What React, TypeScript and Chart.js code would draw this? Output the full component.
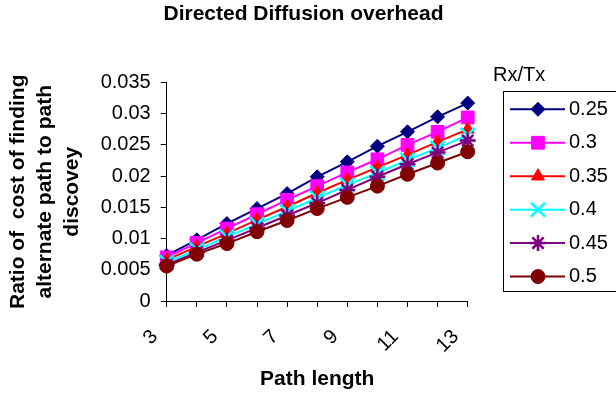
import React, { useEffect, useRef } from 'react';
import { Chart, registerables } from 'chart.js';
import { drawPoint } from 'chart.js/helpers';

Chart.register(...registerables);

const FONT = "'Liberation Sans', Arial, sans-serif";

const categories = ['3', '4', '5', '6', '7', '8', '9', '10', '11', '12', '13'];
const seriesNames = ['0.25', '0.3', '0.35', '0.4', '0.45', '0.5'];

const s025 = [0.0073, 0.0098, 0.0124, 0.0148, 0.0172, 0.0199, 0.0223, 0.0248, 0.0271, 0.0295, 0.0317];
const s030 = [0.0070, 0.0093, 0.0116, 0.0139, 0.0162, 0.0184, 0.0206, 0.0227, 0.0250, 0.0271, 0.0294];
const s035 = [0.0066, 0.0087, 0.0108, 0.0130, 0.0151, 0.0173, 0.0194, 0.0214, 0.0234, 0.0255, 0.0275];
const s040 = [0.0062, 0.0082, 0.0103, 0.0123, 0.0144, 0.0165, 0.0186, 0.0205, 0.0226, 0.0245, 0.0266];
const s045 = [0.0058, 0.0078, 0.0097, 0.0117, 0.0137, 0.0157, 0.0178, 0.0199, 0.0219, 0.0238, 0.0257];
const s050 = [0.0056, 0.0075, 0.0092, 0.0111, 0.0129, 0.0148, 0.0166, 0.0184, 0.0203, 0.0221, 0.0239];
const seriesValues = [s025, s030, s035, s040, s045, s050];

const yMin = 0;
const yMax = 0.035;
const yStep = 0.005;

const colors = ['#000080', '#FF00FF', '#FF0000', '#00FFFF', '#800080', '#800000'];
const pointStyles = ['rectRot', 'rect', 'triangle', 'crossRot', 'star', 'circle'];
const pointRadii = [7, 9, 7.5, 10, 8, 7];
const pointBorders = [1, 1, 1, 2.5, 2.5, 1];

const legendPlugin = {
  id: 'customLegend',
  afterDraw(chart: any) {
    const ctx = chart.ctx;
    ctx.save();
    ctx.font = `20px ${FONT}`;
    ctx.fillStyle = '#000';
    ctx.textBaseline = 'middle';
    ctx.textAlign = 'left';
    ctx.fillText('Rx/Tx', 493, 75);
    ctx.strokeStyle = '#000';
    ctx.lineWidth = 1;
    ctx.strokeRect(503.5, 91.5, 130, 200);
    chart.data.datasets.forEach((ds: any, i: number) => {
      const y = 109.3 + i * 33.45;
      ctx.strokeStyle = ds.borderColor;
      ctx.lineWidth = 2;
      ctx.beginPath();
      ctx.moveTo(510, y);
      ctx.lineTo(565, y);
      ctx.stroke();
      ctx.fillStyle = ds.pointBackgroundColor;
      ctx.strokeStyle = ds.pointBorderColor;
      ctx.lineWidth = ds.pointBorderWidth;
      drawPoint(ctx, { pointStyle: ds.pointStyle, radius: ds.pointRadius, rotation: 0, borderWidth: ds.pointBorderWidth } as any, 538, y);
      ctx.fillStyle = '#000';
      ctx.fillText(ds.label, 569, y);
    });
    ctx.restore();
  },
};

export default function App() {
  const ref = useRef<HTMLCanvasElement>(null);
  useEffect(() => {
    if (!ref.current) return;
    const datasets = seriesNames.map((name, i) => ({
      label: name,
      data: seriesValues[i],
      borderColor: colors[i],
      backgroundColor: colors[i],
      borderWidth: 2,
      pointStyle: pointStyles[i],
      pointRadius: pointRadii[i],
      pointBackgroundColor: colors[i],
      pointBorderColor: colors[i],
      pointBorderWidth: pointBorders[i],
      order: seriesNames.length - i,
      tension: 0,
    }));
    const chart = new Chart(ref.current, {
      type: 'line',
      data: { labels: categories, datasets },
      plugins: [legendPlugin],
      options: {
        responsive: false,
        animation: false,
        events: [],
        layout: { padding: { left: 0, right: 9, top: 0, bottom: 0 } },
        plugins: {
          legend: { display: false },
          tooltip: { enabled: false },
          title: {
            display: true,
            text: 'Directed Diffusion overhead',
            color: '#000',
            font: { family: FONT, size: 21, weight: 'bold', lineHeight: 1.2 },
            padding: { top: 1.9, bottom: 55.4 },
          },
        },
        scales: {
          x: {
            offset: false,
            grid: { display: true, drawOnChartArea: false, drawTicks: true, tickLength: 6, color: '#000' },
            border: { display: true, color: '#000', width: 1 },
            ticks: {
              autoSkip: false,
              minRotation: 45,
              maxRotation: 45,
              padding: 18,
              labelOffset: -12,
              color: '#000',
              font: { family: FONT, size: 20 },
              callback: (_v: any, i: number) => (i % 2 === 0 ? categories[i] : ''),
            },
            title: {
              display: true,
              text: 'Path length',
              color: '#000',
              font: { family: FONT, size: 21, weight: 'bold', lineHeight: 1.2 },
              padding: { top: 0, bottom: 2 },
            },
            afterFit: (s: any) => { s.height = 93; },
          },
          y: {
            min: yMin,
            max: yMax,
            grid: { display: true, drawOnChartArea: false, drawTicks: true, tickLength: 6, color: '#000' },
            border: { display: true, color: '#000', width: 1 },
            ticks: {
              stepSize: yStep,
              padding: 10,
              color: '#000',
              font: { family: FONT, size: 20 },
              callback: (v: any) => String(parseFloat(Number(v).toFixed(3))),
            },
            title: {
              display: true,
              text: ['Ratio of  cost of finding', 'alternate path to path', 'discovey'],
              color: '#000',
              font: { family: FONT, size: 21, weight: 'bold', lineHeight: 27 / 21 },
              padding: { top: 4.5, bottom: 0 },
            },
            afterFit: (s: any) => { s.width = 166.7; },
          },
          y2: {
            position: 'right',
            display: true,
            grid: { display: false },
            border: { display: false },
            ticks: { display: false },
            afterFit: (s: any) => { s.width = 139.3; },
          },
        },
      } as any,
    });
    return () => chart.destroy();
  }, []);
  return (
    <div style={{ position: 'absolute', left: 0, top: 0, width: 616, height: 394, background: '#fff' }}>
      <canvas ref={ref} width={616} height={394} style={{ display: 'block' }} />
    </div>
  );
}
